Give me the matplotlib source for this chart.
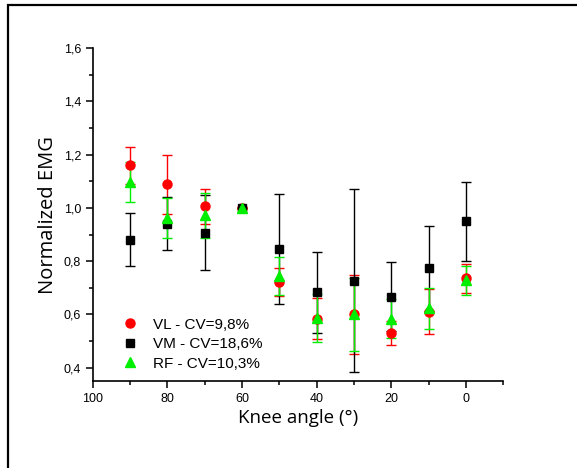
import matplotlib.pyplot as plt
from matplotlib.patches import Rectangle
from matplotlib.ticker import MultipleLocator, FuncFormatter

# Knee angles (deg)
angles = [90, 80, 70, 60, 50, 40, 30, 20, 10, 0]

vl_mean = [1.160, 1.088, 1.006, 1.000, 0.722, 0.583, 0.600, 0.530, 0.610, 0.735]
vl_err = [0.070, 0.112, 0.066, 0.000, 0.054, 0.077, 0.148, 0.046, 0.085, 0.053]

vm_mean = [0.881, 0.941, 0.907, 1.000, 0.846, 0.683, 0.727, 0.667, 0.773, 0.949]
vm_err = [0.100, 0.100, 0.140, 0.000, 0.207, 0.153, 0.345, 0.128, 0.160, 0.147]

rf_mean = [1.098, 0.962, 0.972, 1.000, 0.744, 0.588, 0.601, 0.583, 0.623, 0.728]
rf_err = [0.075, 0.075, 0.085, 0.000, 0.071, 0.090, 0.137, 0.073, 0.076, 0.054]

labels = ['VL - CV=9,8%', 'VM - CV=18,6%', 'RF - CV=10,3%']

plt.rcParams['font.family'] = ['Liberation Sans', 'DejaVu Sans']

fig = plt.figure(figsize=(5.77, 4.68), dpi=100)
ax = fig.add_axes([0.161, 0.186, 0.711, 0.711])

# outer frame (top and left edges visible)
fig.patches.append(Rectangle((8 / 577, -0.1), 1.2, 1 - 5 / 468 + 0.1,
                             transform=fig.transFigure, fill=False,
                             edgecolor='black', linewidth=1.6))

series = [
    (vl_mean, vl_err, 'red', 'o', 6.5),
    (vm_mean, vm_err, 'black', 's', 6),
    (rf_mean, rf_err, '#00ee00', '^', 7),
]
for (m, e, c, mk, ms), lab in zip(series, labels):
    ax.errorbar(angles, m, yerr=e, fmt=mk, color=c, ecolor=c, markersize=ms,
                elinewidth=1, capsize=3.5, capthick=1, label=lab)

ax.set_xlim(100, -10)
ax.set_ylim(0.35, 1.6)
ax.xaxis.set_major_locator(MultipleLocator(20))
ax.xaxis.set_minor_locator(MultipleLocator(10))
ax.yaxis.set_major_locator(MultipleLocator(0.2))
ax.yaxis.set_minor_locator(MultipleLocator(0.1))
ax.yaxis.set_major_formatter(FuncFormatter(lambda v, p: f'{v:.1f}'.replace('.', ',')))
ax.xaxis.set_major_formatter(FuncFormatter(lambda v, p: f'{v:.0f}'))

for s in ['top', 'right']:
    ax.spines[s].set_visible(False)
for s in ['left', 'bottom']:
    ax.spines[s].set_linewidth(1.2)
ax.tick_params(which='major', direction='out', length=5, width=1.1, labelsize=9)
ax.tick_params(which='minor', direction='out', length=3, width=1.1)

ax.set_xlabel('Knee angle (°)', fontfamily='Open Sans', fontsize=13.5, labelpad=3)
ax.set_ylabel('Normalized EMG', fontfamily='Open Sans', fontsize=14.5, labelpad=4)

# legend shows markers only
leg_handles = [plt.Line2D([], [], linestyle='none', marker=mk, color=c, markersize=ms)
               for (_, _, c, mk, ms) in series]
ax.legend(leg_handles, labels, loc='lower left', bbox_to_anchor=(0.035, -0.01),
          frameon=False, fontsize=11, handletextpad=0.9, labelspacing=0.35,
          handlelength=1.2)

fig.savefig('out.png', dpi=100)
